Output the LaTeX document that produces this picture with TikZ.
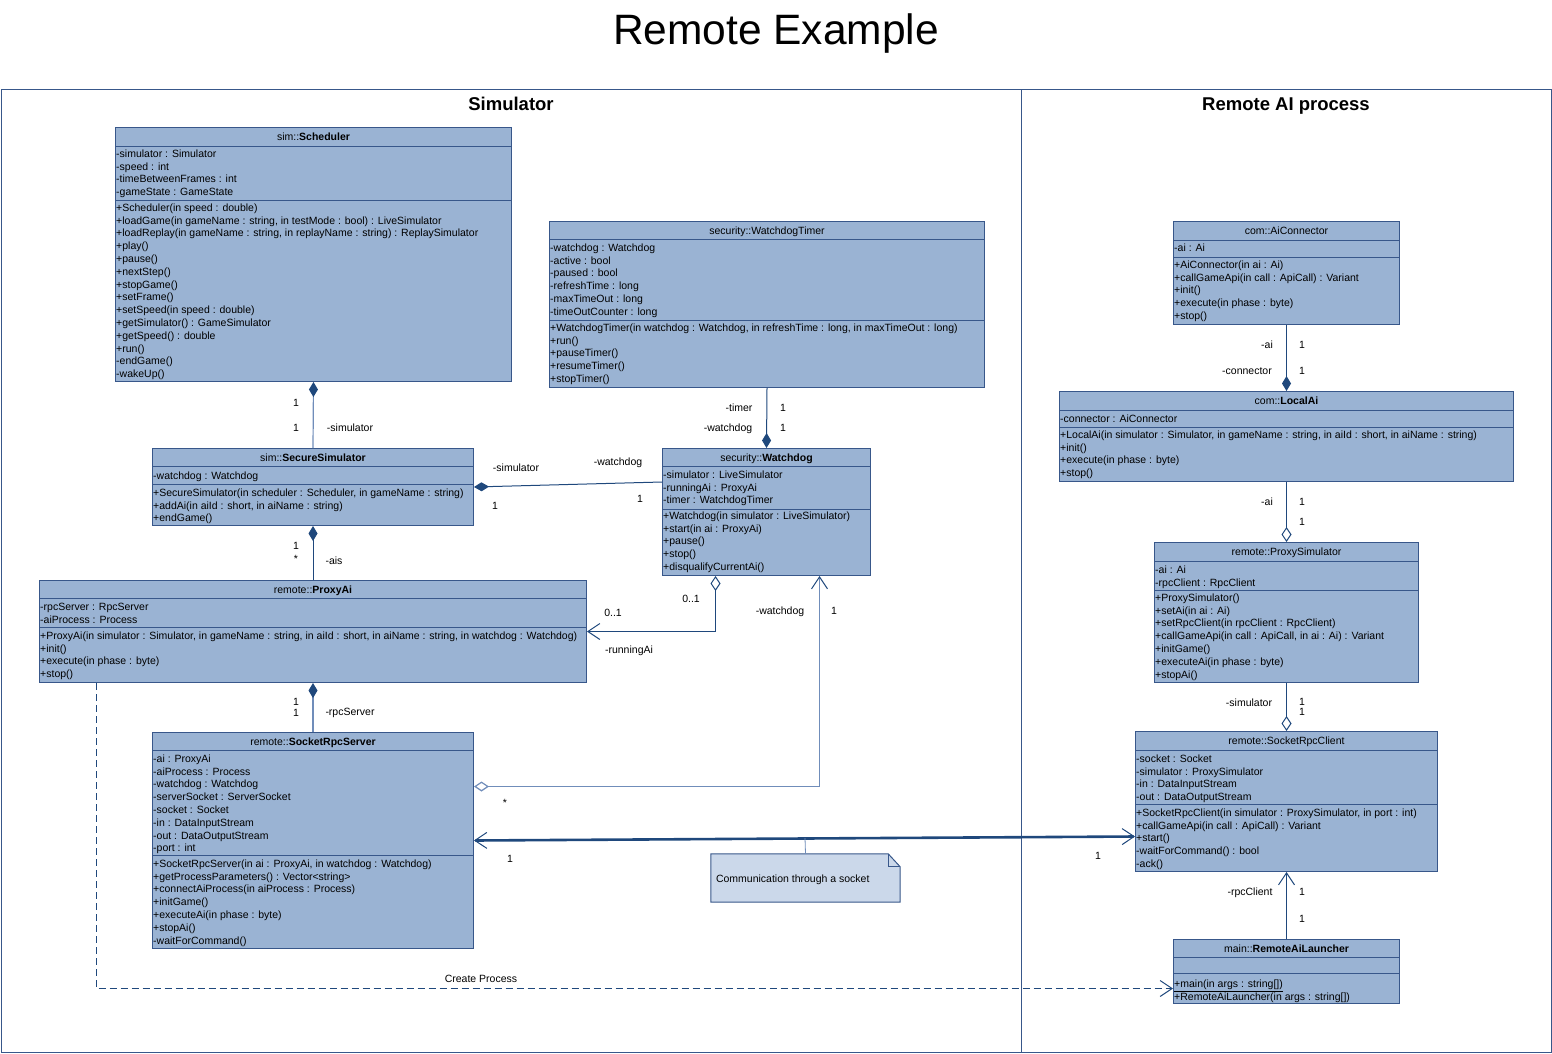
\documentclass[tikz,border=0pt]{standalone}
\usepackage{fontspec}
\setmainfont{Liberation Sans}
\usetikzlibrary{arrows.meta,positioning,calc}
\definecolor{umlfill}{RGB}{154,179,211}
\definecolor{umldraw}{RGB}{56,87,138}
\definecolor{umlline}{RGB}{31,72,124}
\definecolor{umllight}{RGB}{112,141,186}
\definecolor{notefill}{RGB}{203,216,234}
\tikzset{
  lane/.style={draw=umldraw,line width=1pt,inner sep=0pt,anchor=north west},
  lanettl/.style={font=\fontsize{18.5}{22}\selectfont\bfseries,inner sep=0pt,anchor=base},
  cls/.style={draw=umldraw,fill=umlfill,line width=1pt,inner sep=0pt,anchor=north west},
  ttl/.style={font=\fontsize{10.5}{12}\selectfont,inner sep=0pt,text height=8.5pt,text depth=0pt},
  mbr/.style={font=\fontsize{10.5}{12}\selectfont,inner sep=0pt,anchor=west,text height=8.5pt,text depth=0pt},
  lbl/.style={font=\fontsize{10.5}{12}\selectfont,inner sep=0pt,text height=8.5pt,text depth=0pt},
  divider/.style={draw=umldraw,line width=1pt},
  conn/.style={draw=umlline,line width=1pt},
  lightconn/.style={draw=umllight,line width=1.2pt},
  fulldia/.tip={Diamond[length=15pt,width=9pt,fill=umlline,color=umlline]},
  opendia/.tip={Diamond[open,length=15pt,width=10pt,fill=white]},
  openarr/.tip={Straight Barb[length=12pt,width=16pt,line width=1pt,color=umlline]},
}
\newcommand{\members}[4]{\foreach \m [count=\i] in {#4} \node[mbr] (#1-\i) at (#2,#3+12.8*\i-12.8) {\m};}

\begin{document}
\begin{tikzpicture}[x=1pt,y=-1pt]
  \useasboundingbox (0,0) rectangle (1552,1054);

  \node[font=\fontsize{42.5}{48}\selectfont,inner sep=0pt,anchor=base] (title) at (776,45) {Remote Example};
  \node[lane,minimum width=1020,minimum height=963] (simlane) at (1,89) {};
  \node[lane,minimum width=530,minimum height=963] (ailane) at (1021,89) {};
  \node[lanettl] (simttl) at (511,111) {Simulator};
  \node[lanettl] (aittl) at (1286,111) {Remote AI process};

  % simulator side
  \node[cls,minimum width=396,minimum height=254] (sched) at (115,127) {};
  \node[ttl] (sched-t) at (sched.north |- 0,136) {sim::\textbf{Scheduler}};
  \draw[divider] (sched.west |- 0,146) -- (sched.east |- 0,146);
  \draw[divider] (sched.west |- 0,200) -- (sched.east |- 0,200);
  \members{sched-a}{116}{153}{-simulator : Simulator,-speed : int,-timeBetweenFrames : int,-gameState : GameState}
  \members{sched-o}{116}{207}{+Scheduler(in speed : double),
    {+loadGame(in gameName : string, in testMode : bool) : LiveSimulator},
    {+loadReplay(in gameName : string, in replayName : string) : ReplaySimulator},
    +play(),+pause(),+nextStep(),+stopGame(),+setFrame(),+setSpeed(in speed : double),
    +getSimulator() : GameSimulator,+getSpeed() : double,+run(),-endGame(),-wakeUp()}

  \node[cls,minimum width=435,minimum height=166] (wdtimer) at (549,221) {};
  \node[ttl] (wdtimer-t) at (wdtimer.north |- 0,230) {security::WatchdogTimer};
  \draw[divider] (wdtimer.west |- 0,239) -- (wdtimer.east |- 0,239);
  \draw[divider] (wdtimer.west |- 0,320) -- (wdtimer.east |- 0,320);
  \members{wdtimer-a}{550}{247}{-watchdog : Watchdog,-active : bool,-paused : bool,-refreshTime : long,-maxTimeOut : long,-timeOutCounter : long}
  \members{wdtimer-o}{550}{327}{{+WatchdogTimer(in watchdog : Watchdog, in refreshTime : long, in maxTimeOut : long)},
    +run(),+pauseTimer(),+resumeTimer(),+stopTimer()}

  \node[cls,minimum width=321,minimum height=77] (secsim) at (152,448) {};
  \node[ttl] (secsim-t) at (secsim.north |- 0,457) {sim::\textbf{SecureSimulator}};
  \draw[divider] (secsim.west |- 0,466) -- (secsim.east |- 0,466);
  \draw[divider] (secsim.west |- 0,484) -- (secsim.east |- 0,484);
  \members{secsim-a}{153}{475}{-watchdog : Watchdog}
  \members{secsim-o}{153}{492}{{+SecureSimulator(in scheduler : Scheduler, in gameName : string)},
    {+addAi(in aiId : short, in aiName : string)},+endGame()}

  \node[cls,minimum width=208,minimum height=127] (wd) at (662,448) {};
  \node[ttl] (wd-t) at (wd.north |- 0,457) {security::\textbf{Watchdog}};
  \draw[divider] (wd.west |- 0,466) -- (wd.east |- 0,466);
  \draw[divider] (wd.west |- 0,509) -- (wd.east |- 0,509);
  \members{wd-a}{663}{474}{-simulator : LiveSimulator,-runningAi : ProxyAi,-timer : WatchdogTimer}
  \members{wd-o}{663}{515}{+Watchdog(in simulator : LiveSimulator),+start(in ai : ProxyAi),+pause(),+stop(),+disqualifyCurrentAi()}

  \node[cls,minimum width=547,minimum height=102] (proxyai) at (39,580) {};
  \node[ttl] (proxyai-t) at (proxyai.north |- 0,589) {remote::\textbf{ProxyAi}};
  \draw[divider] (proxyai.west |- 0,598) -- (proxyai.east |- 0,598);
  \draw[divider] (proxyai.west |- 0,627) -- (proxyai.east |- 0,627);
  \members{proxyai-a}{40}{606}{-rpcServer : RpcServer,-aiProcess : Process}
  \members{proxyai-o}{40}{635}{{+ProxyAi(in simulator : Simulator, in gameName : string, in aiId : short, in aiName : string, in watchdog : Watchdog)},
    +init(),+execute(in phase : byte),+stop()}

  \node[cls,minimum width=321,minimum height=216] (rpcsrv) at (152,732) {};
  \node[ttl] (rpcsrv-t) at (rpcsrv.north |- 0,741) {remote::\textbf{SocketRpcServer}};
  \draw[divider] (rpcsrv.west |- 0,750) -- (rpcsrv.east |- 0,750);
  \draw[divider] (rpcsrv.west |- 0,855) -- (rpcsrv.east |- 0,855);
  \members{rpcsrv-a}{153}{758}{-ai : ProxyAi,-aiProcess : Process,-watchdog : Watchdog,-serverSocket : ServerSocket,
    -socket : Socket,-in : DataInputStream,-out : DataOutputStream,-port : int}
  \members{rpcsrv-o}{153}{863}{{+SocketRpcServer(in ai : ProxyAi, in watchdog : Watchdog)},
    +getProcessParameters() : Vector<string>,+connectAiProcess(in aiProcess : Process),
    +initGame(),+executeAi(in phase : byte),+stopAi(),-waitForCommand()}

  % remote side
  \node[cls,minimum width=226,minimum height=103] (aicon) at (1173,221) {};
  \node[ttl] (aicon-t) at (aicon.north |- 0,230) {com::AiConnector};
  \draw[divider] (aicon.west |- 0,240) -- (aicon.east |- 0,240);
  \draw[divider] (aicon.west |- 0,257) -- (aicon.east |- 0,257);
  \members{aicon-a}{1174}{247}{-ai : Ai}
  \members{aicon-o}{1174}{264}{+AiConnector(in ai : Ai),+callGameApi(in call : ApiCall) : Variant,+init(),+execute(in phase : byte),+stop()}

  \node[cls,minimum width=454,minimum height=90] (localai) at (1059,391) {};
  \node[ttl] (localai-t) at (localai.north |- 0,400) {com::\textbf{LocalAi}};
  \draw[divider] (localai.west |- 0,410) -- (localai.east |- 0,410);
  \draw[divider] (localai.west |- 0,427) -- (localai.east |- 0,427);
  \members{localai-a}{1060}{418}{-connector : AiConnector}
  \members{localai-o}{1060}{434}{{+LocalAi(in simulator : Simulator, in gameName : string, in aiId : short, in aiName : string)},
    +init(),+execute(in phase : byte),+stop()}

  \node[cls,minimum width=264,minimum height=140] (proxysim) at (1154,542) {};
  \node[ttl] (proxysim-t) at (proxysim.north |- 0,551) {remote::ProxySimulator};
  \draw[divider] (proxysim.west |- 0,561) -- (proxysim.east |- 0,561);
  \draw[divider] (proxysim.west |- 0,590) -- (proxysim.east |- 0,590);
  \members{proxysim-a}{1155}{569}{-ai : Ai,-rpcClient : RpcClient}
  \members{proxysim-o}{1155}{597}{+ProxySimulator(),+setAi(in ai : Ai),+setRpcClient(in rpcClient : RpcClient),
    {+callGameApi(in call : ApiCall, in ai : Ai) : Variant},+initGame(),+executeAi(in phase : byte),+stopAi()}

  \node[cls,minimum width=302,minimum height=140] (rpcclt) at (1135,731) {};
  \node[ttl] (rpcclt-t) at (rpcclt.north |- 0,740) {remote::SocketRpcClient};
  \draw[divider] (rpcclt.west |- 0,750) -- (rpcclt.east |- 0,750);
  \draw[divider] (rpcclt.west |- 0,804) -- (rpcclt.east |- 0,804);
  \members{rpcclt-a}{1136}{758}{-socket : Socket,-simulator : ProxySimulator,-in : DataInputStream,-out : DataOutputStream}
  \members{rpcclt-o}{1136}{812}{{+SocketRpcClient(in simulator : ProxySimulator, in port : int)},
    +callGameApi(in call : ApiCall) : Variant,+start(),-waitForCommand() : bool,-ack()}

  \node[cls,minimum width=226,minimum height=64] (launcher) at (1173,939) {};
  \node[ttl] (launcher-t) at (launcher.north |- 0,948) {main::\textbf{RemoteAiLauncher}};
  \draw[divider] (launcher.west |- 0,957) -- (launcher.east |- 0,957);
  \draw[divider] (launcher.west |- 0,973) -- (launcher.east |- 0,973);
  \members{launcher-o}{1174}{983}{\underline{+main(in args : string[])},+RemoteAiLauncher(in args : string[])}

  % note
  \node[inner sep=0pt,minimum width=189,minimum height=48] (note) at (805.5,878) {};
  \draw[draw=umldraw,fill=notefill,line width=1pt] (note.north west) -- ([xshift=-12]note.north east)
    -- ([yshift=-13]note.north east) -- (note.south east) -- (note.south west) -- cycle;
  \draw[draw=umldraw,line width=0.8pt] ([xshift=-12]note.north east) |- ([yshift=-13]note.north east);
  \node[mbr] (note-txt) at ([xshift=5]note.west) {Communication through a socket};

  % connectors
  \draw[lightconn,fulldia-] (sched.south) -- (secsim.north);
  \draw[conn,-fulldia] (wdtimer.south) -- (wd.north);
  \draw[conn,fulldia-] (secsim.east) -- ([yshift=30]wd.west);
  \draw[conn,fulldia-] (secsim.south) -- (proxyai.north);
  \draw[conn,opendia-openarr] ([xshift=-51]wd.south) |- (proxyai.east);
  \draw[lightconn,opendia-openarr] ([yshift=54]rpcsrv.east) -| ([xshift=53]wd.south);
  \draw[lightconn,fulldia-] (proxyai.south) -- (rpcsrv.north);
  \draw[draw=umlline,line width=2.6pt,openarr-openarr] (rpcsrv.east) -- ([yshift=-35]rpcclt.west);
  \coordinate (sockmid) at (805,838);
  \draw[draw=umllight,line width=0.8pt] (note.north) -- (sockmid);
  \draw[conn,dashed,dash pattern=on 7pt off 4pt,-openarr] ([xshift=57]proxyai.south west) |- ([yshift=-17]launcher.west);
  \draw[conn,-fulldia] (aicon.south) -- (localai.north);
  \draw[conn,-opendia] (localai.south) -- (proxysim.north);
  \draw[conn,-opendia] (proxysim.south) -- (rpcclt.north);
  \draw[conn,-openarr] (launcher.north) -- (rpcclt.south);

  % role names and multiplicities
  \foreach \t/\x/\y [count=\k] in {1/296/402,1/296/427,-simulator/350/427,
      -timer/739/407,1/783/407,-watchdog/728/427,1/783/427,
      -simulator/516/467,1/495/505,-watchdog/618/461,1/640/498,
      1/296/545,*/296/558,-ais/334/560,
      0..1/691/598,0..1/613/612,-runningAi/629/649,
      */505/802,-watchdog/780/610,1/834/610,
      1/296/701,1/296/712,-rpcServer/350/711,
      1/510/858,1/1098/855,Create Process/481/978,
      -ai/1267/344,1/1302/344,-connector/1247/370,1/1302/370,
      -ai/1267/501,1/1302/501,1/1302/521,
      -simulator/1249/702,1/1302/701,1/1302/711,
      -rpcClient/1250/891,1/1302/891,1/1302/918}
    \node[lbl] (lab\k) at (\x,\y) {\t};
\end{tikzpicture}
\end{document}
